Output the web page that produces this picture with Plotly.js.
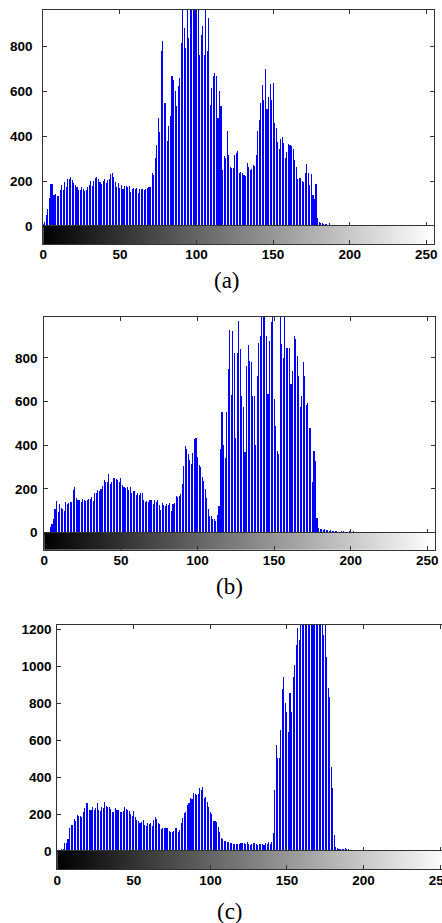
<!DOCTYPE html>
<html>
<head>
<meta charset="utf-8">
<script src="https://cdn.plot.ly/plotly-3.0.1.min.js"></script>
<style>
html, body { margin: 0; padding: 0; overflow: hidden; background: #fff; }
#chart { width: 460px; height: 923px; }
#chart .bars path { shape-rendering: crispEdges; }
#chart .xtick text, #chart .ytick text { font-weight: bold !important; }
</style>
</head>
<body>
<div id="chart"></div>
<script>
// Gray levels (bins) 0..255
const bins = [];
for (let i = 0; i < 256; i++) bins.push(i);
const grayLevels = bins.slice();

const xTickVals = [0, 50, 100, 150, 200, 250];
const yTickValsAB = [0, 200, 400, 600, 800];
const yTickValsC = [0, 200, 400, 600, 800, 1000, 1200];
const panelLabels = ['(a)', '(b)', '(c)'];

// Histogram (a)
const histA = [
8,20,48,75,125,188,185,140,142,135,
135,160,182,160,197,175,207,210,219,204,
190,182,172,160,160,172,163,157,160,172,
182,201,178,201,212,219,207,197,187,201,
209,193,204,207,231,237,219,197,175,193,
167,182,163,178,178,175,179,153,163,167,
163,167,145,164,165,163,162,165,167,172,
172,236,228,302,359,480,420,776,821,547,
545,376,443,487,665,650,600,532,621,660,
813,1000,880,791,1000,836,1000,1000,1000,1000,
1000,1000,761,850,887,761,1000,776,924,539,
613,665,680,665,480,599,532,250,310,302,
424,317,261,258,256,317,323,335,237,240,
237,225,222,279,261,249,255,271,268,316,
424,471,545,627,560,696,519,575,630,560,
637,459,434,375,341,385,394,370,301,330,
364,360,356,341,293,264,207,212,212,201,
197,234,276,234,182,231,138,119,187,34,
19,12,15,10,9,8,6,12,6,5,
4,3,5,3,2,4,3,0,3,2,
0,0,3,0,0,0,0,0,0,3,
0,0,0,0,0,3,0,0,0,0,
0,0,3,0,0,0,0,0,3,0,
0,0,0,0,0,3,0,0,0,0,
0,3,0,0,0,0,0,0,3,0,
0,0,0,0,0,0
];

// Histogram (b)
const histB = [
0,0,0,5,24,40,61,107,145,95,
131,111,107,101,139,131,134,140,140,195,
208,157,150,150,142,154,150,147,150,153,
155,162,144,180,180,195,192,200,214,241,
231,231,267,225,232,249,249,244,241,234,
249,220,208,205,211,195,208,183,190,192,
172,183,171,180,180,150,140,145,140,150,
150,130,148,140,148,125,104,137,128,122,
130,125,134,99,130,134,168,165,168,176,
221,305,397,385,360,333,313,363,427,432,
348,311,300,256,237,202,160,110,76,76,
64,61,55,79,122,382,550,400,343,550,
751,928,629,924,824,435,824,970,840,626,
573,370,763,858,786,782,626,626,400,718,
867,898,1000,1000,1000,901,634,878,962,1000,
611,489,374,359,1000,862,800,1000,847,843,
843,679,740,901,885,809,718,573,626,782,
718,583,595,481,481,232,374,328,69,20,
15,18,14,15,12,12,10,12,8,10,
6,8,5,4,6,8,5,4,3,6,
4,3,8,5,3,2,5,3,0,5,
4,0,0,0,0,0,0,0,0,0,
0,0,0,0,0,0,0,0,0,0,
0,0,0,0,0,0,0,0,0,0,
0,0,0,0,0,0,0,0,0,0,
0,0,0,0,0,0
];

// Histogram (c)
const histC = [
0,2,5,13,13,41,41,63,122,140,
140,171,160,195,189,189,186,213,231,258,
258,222,222,236,220,231,261,222,218,240,
231,267,245,240,240,225,213,213,231,222,
222,213,213,218,236,229,222,218,200,189,
218,182,168,164,150,159,168,140,135,150,
145,153,135,168,182,175,150,146,120,126,
122,122,122,108,101,104,110,122,122,104,
113,150,176,204,213,249,258,288,281,312,
308,303,310,339,330,348,285,294,267,240,
213,200,162,162,159,131,104,68,65,56,
54,50,47,45,41,36,40,40,36,36,
41,45,45,38,47,40,32,36,41,41,
36,32,36,36,36,32,45,38,47,40,
50,95,330,573,501,501,654,876,942,798,
753,645,852,753,942,1005,1114,1204,1141,1300,
1300,1300,1300,1300,1300,1300,1300,1300,1300,1300,
1300,1300,1300,1300,1168,1300,1050,880,834,456,
339,86,23,14,11,11,10,9,14,9,
12,7,5,4,3,2,3,0,3,0,
0,3,0,0,0,0,0,3,0,0,
0,0,0,3,0,0,0,0,3,0,
0,0,0,0,3,0,0,0,0,3,
0,0,0,0,0,3,0,0,0,0,
3,0,0,0,0,0,3,0,0,0,
0,3,0,0,0,0
];

const W = 460, H = 923;
const fx = px => px / W;
const fy = py => 1 - py / H;

const AX = '#333333';
const tickFont = { family: 'Liberation Sans', size: 13.5, color: '#000', weight: 'bold' };

const panels = [
  { data: histA, x0: 43.3, x1: 434, top: 10, zero: 226, cbBot: 244, ymax: 960, yticks: yTickValsAB, stand: 7, lab: [227, 280] },
  { data: histB, x0: 44.3, x1: 435, top: 316.7, zero: 532.7, cbBot: 550, ymax: 988, yticks: yTickValsAB, stand: 3, lab: [229, 586] },
  { data: histC, x0: 57.3, x1: 57.3 + 255 * 1.531, top: 625, zero: 851, cbBot: 869.3, ymax: 1222, yticks: yTickValsC, stand: 2, lab: [230, 911] }
];

const traces = [];
const layout = {
  width: W, height: H,
  margin: { l: 0, r: 0, t: 0, b: 0 },
  paper_bgcolor: '#fff', plot_bgcolor: '#fff',
  showlegend: false,
  annotations: []
};

panels.forEach((p, k) => {
  const hx = 2 * k + 1, cx = 2 * k + 2;
  const hxName = hx === 1 ? 'x' : 'x' + hx;
  const hyName = hx === 1 ? 'y' : 'y' + hx;
  const cxName = 'x' + cx, cyName = 'y' + cx;
  const xd = [fx(p.x0), fx(p.x1)];

  traces.push({
    type: 'bar', x: bins, y: p.data, xaxis: hxName, yaxis: hyName,
    width: 0.7, marker: { color: '#0000ff', line: { width: 0 } },
    hoverinfo: 'skip'
  });
  traces.push({
    type: 'heatmap', x: bins, y: [0], z: [grayLevels], xaxis: cxName, yaxis: cyName,
    colorscale: [[0, '#000000'], [1, '#ffffff']], zmin: 0, zmax: 255,
    showscale: false, hoverinfo: 'skip'
  });

  layout[hx === 1 ? 'xaxis' : 'xaxis' + hx] = {
    domain: xd, range: [0, 255], anchor: hyName,
    tickvals: xTickVals, showticklabels: false,
    ticks: 'inside', ticklen: 4, tickcolor: AX,
    showline: true, linecolor: AX, linewidth: 1, mirror: 'ticks',
    showgrid: false, zeroline: false, fixedrange: true
  };
  layout[hx === 1 ? 'yaxis' : 'yaxis' + hx] = {
    domain: [fy(p.zero), fy(p.top)], range: [0, p.ymax], anchor: hxName,
    tickvals: p.yticks, ticks: 'inside', ticklen: 4, tickcolor: AX,
    tickfont: tickFont, ticklabelstandoff: p.stand,
    showline: true, linecolor: AX, linewidth: 1, mirror: 'ticks',
    showgrid: false, zeroline: false, fixedrange: true
  };
  layout['xaxis' + cx] = {
    domain: xd, range: [0, 255], anchor: cyName,
    tickvals: xTickVals, ticks: 'inside', ticklen: 4, tickcolor: AX,
    tickfont: tickFont, ticklabelstandoff: -2,
    showline: true, linecolor: AX, linewidth: 1, mirror: true,
    showgrid: false, zeroline: false, fixedrange: true
  };
  layout['yaxis' + cx] = {
    domain: [fy(p.cbBot), fy(p.zero)], range: [-0.5, 0.5], anchor: cxName,
    showticklabels: false, ticks: '',
    showline: true, linecolor: AX, linewidth: 1, mirror: true,
    showgrid: false, zeroline: false, fixedrange: true
  };

  layout.annotations.push({
    xref: 'paper', yref: 'paper', x: fx(p.lab[0]), y: fy(p.lab[1]),
    xanchor: 'center', yanchor: 'middle', showarrow: false,
    text: panelLabels[k],
    font: { family: 'Liberation Serif', size: 23, color: '#000' }
  });
});

Plotly.newPlot('chart', traces, layout, { staticPlot: true, displayModeBar: false });
</script>
</body>
</html>
